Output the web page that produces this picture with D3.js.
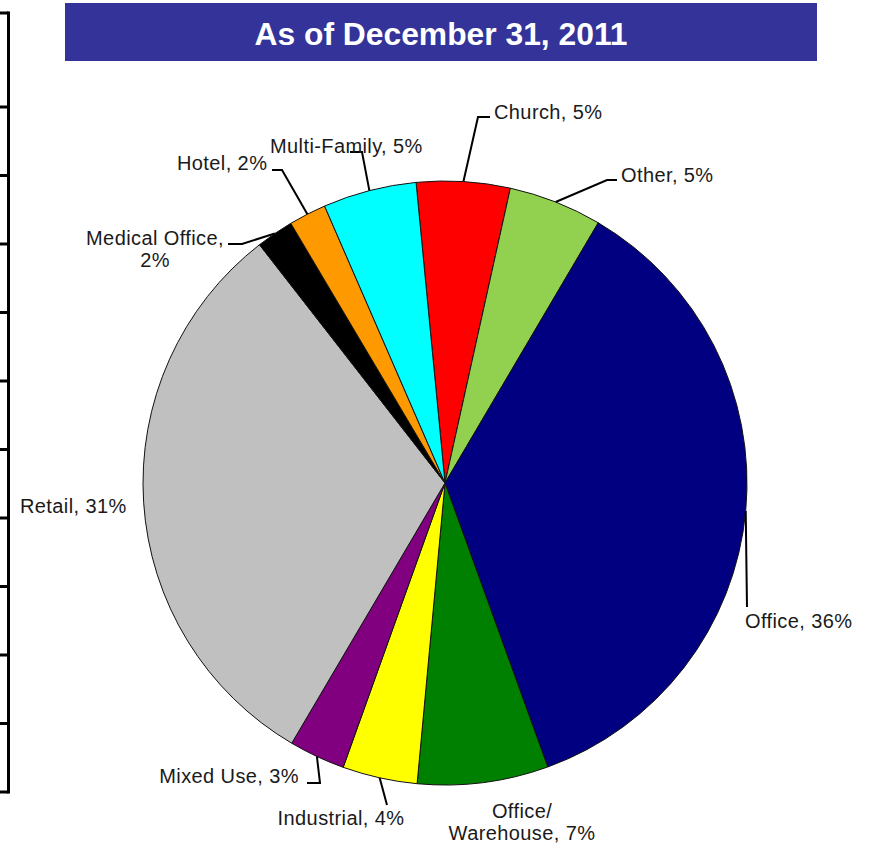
<!DOCTYPE html>
<html>
<head>
<meta charset="utf-8">
<script src="https://cdn.jsdelivr.net/npm/d3@7"></script>
<style>
  html, body { margin: 0; padding: 0; background: #fff; }
  svg { display: block; }
</style>
</head>
<body>
<svg id="chart" width="869" height="846"></svg>
<script>
// Loan portfolio by property type
const title = "As of December 31, 2011";
const categories = ["Church", "Other", "Office", "Office/Warehouse", "Industrial",
                    "Mixed Use", "Retail", "Medical Office", "Hotel", "Multi-Family"];
const shares = [5, 5, 36, 7, 4, 3, 31, 2, 2, 5];
const colors = ["#ff0000", "#92d050", "#000080", "#008000", "#ffff00",
                "#800080", "#c0c0c0", "#000000", "#ff9900", "#00ffff"];

// label text lines per category
const labelLines = {
  "Church": ["Church, 5%"],
  "Other": ["Other, 5%"],
  "Office": ["Office, 36%"],
  "Office/Warehouse": ["Office/", "Warehouse, 7%"],
  "Industrial": ["Industrial, 4%"],
  "Mixed Use": ["Mixed Use, 3%"],
  "Retail": ["Retail, 31%"],
  "Medical Office": ["Medical Office,", "2%"],
  "Hotel": ["Hotel, 2%"],
  "Multi-Family": ["Multi-Family, 5%"]
};

// label placement: text anchor point + leader elbow/end points
const labelLayout = {
  "Church":           { x: 494, y: 119, anchor: "start",  leader: [[478, 117], [490, 117]] },
  "Other":            { x: 621, y: 182, anchor: "start",  leader: [[607, 180], [617, 180]] },
  "Office":           { x: 745, y: 628, anchor: "start",  leader: [[747, 607]] },
  "Office/Warehouse": { x: 522, y: 818, anchor: "middle", leader: null },
  "Industrial":       { x: 341, y: 825, anchor: "middle", leader: [[387, 805]] },
  "Mixed Use":        { x: 299, y: 783, anchor: "end",    leader: [[320, 783], [307, 783]] },
  "Retail":           { x: 20,  y: 513, anchor: "start",  leader: null },
  "Medical Office":   { x: 155, y: 245, anchor: "middle", leader: [[242, 244], [228, 244]] },
  "Hotel":            { x: 177, y: 170, anchor: "start",  leader: [[282, 170], [272, 170]] },
  "Multi-Family":     { x: 270, y: 153, anchor: "start",  leader: [[362, 152], [350, 152]] }
};

const svg = d3.select("#chart");
const cx = 445, cy = 483, radius = 302;

// left frame rule with tick marks
const frameY = d3.scaleLinear().domain([0, 10]).range([107, 792]);
const tickYs = [13].concat(d3.range(0, 11).map(frameY));
svg.append("line")
  .attr("x1", 8.5).attr("x2", 8.5).attr("y1", 11.5).attr("y2", 793.5)
  .attr("stroke", "#000").attr("stroke-width", 3);
svg.selectAll("line.tick").data(tickYs).join("line")
  .attr("class", "tick")
  .attr("x1", 0).attr("x2", 8.5)
  .attr("y1", d => d).attr("y2", d => d)
  .attr("stroke", "#000").attr("stroke-width", 3);

// title banner
svg.append("rect")
  .attr("x", 65).attr("y", 3).attr("width", 752).attr("height", 58)
  .attr("fill", "#333399");
svg.append("text")
  .attr("x", 441).attr("y", 45)
  .attr("text-anchor", "middle")
  .attr("font-family", "Liberation Sans, Arial, sans-serif")
  .attr("font-weight", "bold")
  .attr("font-size", 32)
  .attr("fill", "#fff")
  .attr("textLength", 373)
  .attr("lengthAdjust", "spacingAndGlyphs")
  .text(title);

// pie
const rows = categories.map((c, i) => ({ category: c, value: shares[i], color: colors[i] }));
const startAngle = -5.5 * Math.PI / 180;
const pie = d3.pie().sort(null).value(d => d.value)
  .startAngle(startAngle).endAngle(startAngle + 2 * Math.PI);
const arc = d3.arc().innerRadius(0).outerRadius(radius);
const arcs = pie(rows);

const g = svg.append("g").attr("transform", `translate(${cx},${cy})`);
g.selectAll("path.slice").data(arcs).join("path")
  .attr("class", "slice")
  .attr("d", arc)
  .attr("fill", d => d.data.color)
  .attr("stroke", "#111")
  .attr("stroke-width", 1)
  .attr("stroke-linejoin", "round");

// leader lines from slice edge midpoints
const edgePoint = d => {
  const a = (d.startAngle + d.endAngle) / 2;
  return [cx + radius * Math.sin(a), cy - radius * Math.cos(a)];
};
const line = d3.line();
arcs.forEach(d => {
  const lay = labelLayout[d.data.category];
  if (!lay.leader) return;
  svg.append("path")
    .attr("d", line([edgePoint(d)].concat(lay.leader)))
    .attr("fill", "none")
    .attr("stroke", "#000")
    .attr("stroke-width", 2);
});

// category labels
arcs.forEach(d => {
  const lay = labelLayout[d.data.category];
  const t = svg.append("text")
    .attr("x", lay.x).attr("y", lay.y)
    .attr("text-anchor", lay.anchor)
    .attr("font-family", "Liberation Sans, Arial, sans-serif")
    .attr("font-size", 20)
    .attr("letter-spacing", 0.4)
    .attr("fill", "#1a1a1a");
  labelLines[d.data.category].forEach((s, i) => {
    t.append("tspan").attr("x", lay.x).attr("dy", i === 0 ? 0 : 22).text(s);
  });
});
</script>
</body>
</html>
